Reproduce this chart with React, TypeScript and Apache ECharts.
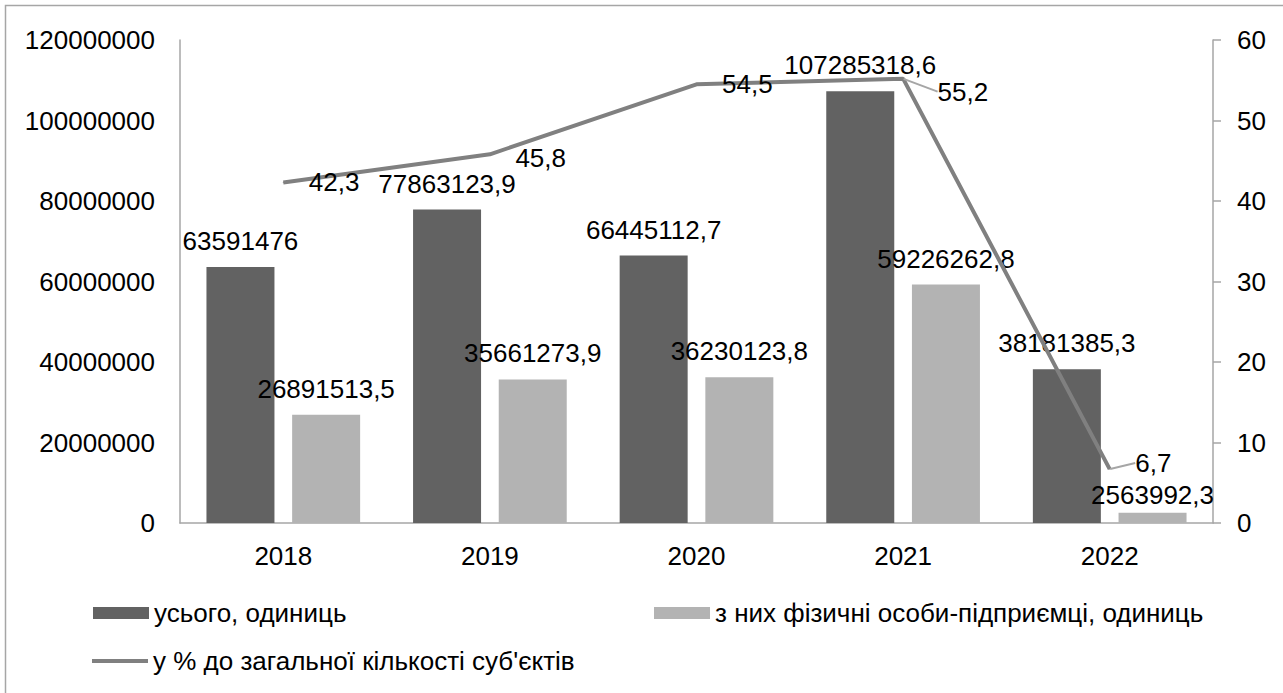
import React, { useEffect, useRef } from "react";
import * as echarts from "echarts";

const years = ["2018", "2019", "2020", "2021", "2022"];
const totalUnits = [63591476, 77863123.9, 66445112.7, 107285318.6, 38181385.3];
const entrepreneurs = [26891513.5, 35661273.9, 36230123.8, 59226262.8, 2563992.3];
const sharePct = [42.3, 45.8, 54.5, 55.2, 6.7];

const nameTotal = "усього, одиниць";
const nameEnt = "з них фізичні особи-підприємці, одиниць";
const nameShare = "у % до загальної кількості суб'єктів";

const FONT = "Liberation Sans, Arial, sans-serif";
const FS = 26;
const fmt = (v: number) => String(v).replace(".", ",");

export default function App() {
  const ref = useRef<HTMLDivElement>(null);
  useEffect(() => {
    if (!ref.current) return;
    const chart = echarts.init(ref.current, undefined, { renderer: "svg" });
    const textStyle = { fontFamily: FONT, fontSize: FS, color: "#000" };
    chart.setOption({
      animation: false,
      backgroundColor: "#fff",
      textStyle: { fontFamily: FONT },
      graphic: [
        {
          type: "rect",
          shape: { x: 5.5, y: 5.5, width: 1300, height: 720 },
          style: { fill: "none", stroke: "#a6a6a6", lineWidth: 1.5 },
          silent: true,
        },
      ],
      grid: { left: 180, right: 70, top: 40, bottom: 170, containLabel: false },
      legend: [
        {
          data: [{ name: nameTotal, icon: "rect" }],
          left: 93,
          top: 600,
          padding: 0,
          itemWidth: 56,
          itemHeight: 12,
          textStyle,
        },
        {
          data: [{ name: nameEnt, icon: "rect" }],
          left: 654,
          top: 600,
          padding: 0,
          itemWidth: 56,
          itemHeight: 12,
          textStyle,
        },
        {
          data: [{ name: nameShare, icon: "rect" }],
          left: 92,
          top: 648,
          padding: 0,
          itemWidth: 56,
          itemHeight: 4,
          textStyle,
        },
      ],
      xAxis: {
        type: "category",
        data: years,
        axisLine: { show: true, lineStyle: { color: "#a6a6a6", width: 1.5 } },
        axisTick: { show: false },
        axisLabel: { ...textStyle, margin: 20 },
      },
      yAxis: [
        {
          type: "value",
          min: 0,
          max: 120000000,
          interval: 20000000,
          axisLine: { show: true, lineStyle: { color: "#a6a6a6", width: 1.5 } },
          axisTick: { show: false },
          splitLine: { show: false },
          axisLabel: { ...textStyle, margin: 25, formatter: (v: number) => String(v) },
        },
        {
          type: "value",
          min: 0,
          max: 60,
          interval: 10,
          position: "right",
          axisLine: { show: true, lineStyle: { color: "#a6a6a6", width: 1.5 } },
          axisTick: { show: true, length: 8, lineStyle: { color: "#a6a6a6", width: 1.5 } },
          splitLine: { show: false },
          axisLabel: { ...textStyle, margin: 24 },
        },
      ],
      series: [
        {
          name: nameTotal,
          type: "bar",
          yAxisIndex: 0,
          barWidth: 68,
          barGap: "26%",
          itemStyle: { color: "#626262" },
          data: totalUnits,
          label: {
            show: true,
            position: "top",
            distance: 13,
            ...textStyle,
            formatter: (p: any) => fmt(p.value),
          },
        },
        {
          name: nameEnt,
          type: "bar",
          yAxisIndex: 0,
          barWidth: 68,
          barGap: "26%",
          itemStyle: { color: "#b3b3b3" },
          data: entrepreneurs.map((v, i) =>
            i === 4 ? { value: v, label: { distance: 5 } } : v
          ),
          label: {
            show: true,
            position: "top",
            distance: 13,
            ...textStyle,
            formatter: (p: any) => fmt(p.value),
          },
        },
        {
          name: nameShare,
          type: "line",
          yAxisIndex: 1,
          symbol: "circle",
          symbolSize: 1,
          showSymbol: true,
          itemStyle: { color: "#808080" },
          lineStyle: { color: "#808080", width: 4 },
          data: sharePct.map((v, i) =>
            i === 3 || i === 4
              ? {
                  value: v,
                  labelLine: {
                    show: true,
                    lineStyle: { color: "#a6a6a6", width: 2 },
                  },
                }
              : v
          ),
          label: {
            show: true,
            position: "right",
            distance: 25,
            ...textStyle,
            formatter: (p: any) => fmt(p.value),
          },
          labelLayout: (params: any) => {
            if (params.dataIndex === 3) return { dx: 9, dy: 13 };
            if (params.dataIndex === 4) return { dx: 0, dy: -6 };
            if (params.dataIndex === 1) return { dy: 4 };
            return {};
          },
        },
      ],
    });
    return () => chart.dispose();
  }, []);
  return (
    <div
      ref={ref}
      style={{ position: "absolute", left: 0, top: 0, width: 1283, height: 693 }}
    />
  );
}
